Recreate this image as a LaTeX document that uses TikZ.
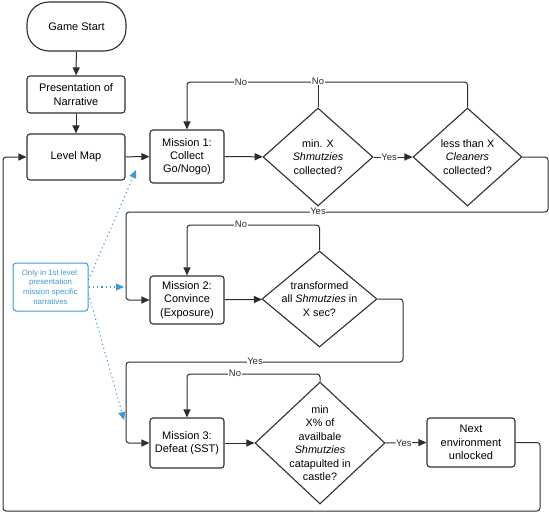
\documentclass[tikz,border=0pt]{standalone}
\usepackage{fontspec}
\setmainfont{Liberation Sans}
\usetikzlibrary{shapes.geometric,arrows.meta}
\definecolor{lc}{HTML}{2E2E2E}
\definecolor{bl}{HTML}{3C9AD6}
\begin{document}
\begin{tikzpicture}[x=1pt,y=-1pt,
  box/.style={draw=lc, line width=1.1pt, rounded corners=3pt, align=center, inner sep=0pt,
    font=\fontsize{11}{13.3}\selectfont},
  dia/.style={draw=lc, line width=1.1pt, shape=diamond, inner sep=0pt},
  dtext/.style={align=center, font=\fontsize{10.8}{13.5}\selectfont},
  conn/.style={draw=lc, line width=1pt, rounded corners=3pt},
  arr/.style={conn, -{Triangle[length=8pt,width=7pt]}},
  lab/.style={fill=white, inner sep=0.5pt, font=\fontsize{9.5}{10}\selectfont, text=lc},
  bbox/.style={draw=bl, line width=1pt, rounded corners=3pt, align=center, text=bl, inner sep=0pt,
    font=\fontsize{7.8}{9.7}\selectfont},
  barr/.style={draw=bl, line width=1.1pt, dash pattern=on 1.1pt off 3.2pt, -{Triangle[length=8pt,width=7pt]}}]
\useasboundingbox (0,0) rectangle (549,512);

\node[box, rounded corners=22pt, minimum width=99pt, minimum height=49pt] (gs) at (76.5,26.5) {Game Start};
\node[box, minimum width=98pt, minimum height=37pt] (pn) at (76,94.5) {Presentation of\\Narrative};
\node[box, minimum width=98pt, minimum height=46pt] (lm) at (76,157) {Level Map};
\node[box, minimum width=74pt, minimum height=53pt] (m1) at (187,156.5) {Mission 1:\\Collect\\Go/Nogo)};
\node[dia, minimum width=110pt, minimum height=98pt] (d1) at (318,157) {};
\node[dtext] at (d1) {min. X\\\textit{Shmutzies}\\collected?};
\node[dia, minimum width=109pt, minimum height=98pt] (d2) at (467.5,157) {};
\node[dtext] at (d2) {less than X\\\textit{Cleaners}\\collected?};
\node[box, minimum width=74pt, minimum height=48pt] (m2) at (187,300) {Mission 2:\\Convince\\(Exposure)};
\node[dia, minimum width=115pt, minimum height=96pt] (d3) at (319.5,299) {};
\node[dtext] at (d3) {transformed\\all \textit{Shmutzies} in\\X sec?};
\node[box, minimum width=74pt, minimum height=50pt] (m3) at (187,443) {Mission 3:\\Defeat (SST)};
\node[dia, minimum width=130pt, minimum height=122pt] (d4) at (320,443) {};
\node[dtext] at (d4) {min\\X\% of\\availbale\\\textit{Shmutzies}\\catapulted in\\castle?};
\node[box, minimum width=88pt, minimum height=49pt] (ne) at (471,442.5) {Next\\environment\\unlocked};
\node[bbox, minimum width=75pt, minimum height=48pt] (bx) at (50.5,287) {Only in 1st level:\\presentation\\mission specific\\narratives};

% main flow
\draw[arr] (gs) -- (pn);
\draw[arr] (pn) -- (lm);
\draw[arr] (lm) -- (m1);
\draw[arr] (m1) -- (d1);
\draw[arr] (d1.east) -- node[lab, pos=0.4] {Yes} (d2.west);
\draw[arr] (m2) -- (d3);
\draw[arr] (m3) -- (d4);
\draw[arr] (d4.east) -- node[lab, pos=0.45] {Yes} (ne.west);

% mission 1 loops
\draw[arr] (d2.north) -- (d2.north |- 0,82) -- (m1.north |- 0,82) -- (m1.north);
\node[lab] at (241,82) {No};
\draw[conn] (d1.north) -- (d1.north |- 0,82);
\node[lab] at (318,81) {No};
\draw[arr] (d2.east) -- (548,157) -- (548,212) -- (126,212) -- (126,300) -- (m2.west);
\draw[conn] (d1.south) -- (d1.south |- 0,212);
\node[lab] at (318,211) {Yes};

% mission 2 loops
\draw[arr] (d3.north) -- (d3.north |- 0,225) -- (m2.north |- 0,225) -- (m2.north);
\node[lab] at (241,224) {No};
\draw[arr] (d3.east) -- (403,299) -- (403,362) -- (126,362) -- (126,443) -- (m3.west);
\node[lab] at (255,361) {Yes};

% mission 3 loops
\draw[arr] (d4.north) -- (d4.north |- 0,374) -- (m3.north |- 0,374) -- (m3.north);
\node[lab] at (235,373) {No};
\draw[arr] (ne.east) -- (540,442.5) -- (540,511) -- (3,511) -- (3,157) -- (lm.west);

% blue dotted
\coordinate (t1) at (136,170);
\coordinate (t2) at (124,287);
\coordinate (t3) at (124,420);
\draw[barr] (bx.east |- 0,280) -- (t1);
\draw[barr] (bx.east |- 0,287) -- (t2);
\draw[barr] (bx.east |- 0,294) -- (t3);
\end{tikzpicture}
\end{document}
